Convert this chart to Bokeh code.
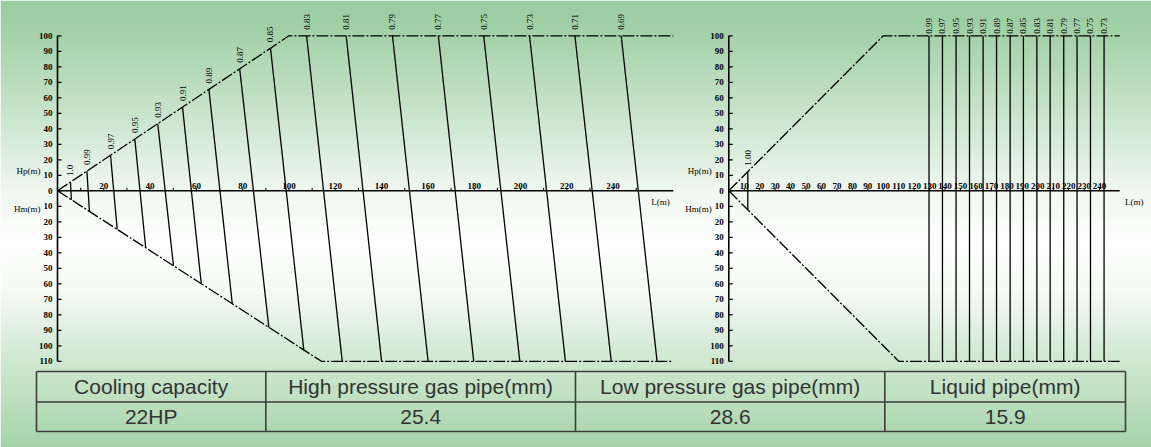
import numpy as np
from bokeh.plotting import figure
from bokeh.models import Range1d
from bokeh.core.properties import value
from bokeh.embed import file_html
from bokeh.resources import INLINE

# ---------------- data ----------------
# Left chart: correction-factor lines (L in m where each line meets upper / lower boundary)
left_factors = ["1.0", "0.99", "0.97", "0.95", "0.93", "0.91", "0.89", "0.87", "0.85",
                "0.83", "0.81", "0.79", "0.77", "0.75", "0.73", "0.71", "0.69"]
left_top_L = [5.6, 12.7, 22.9, 33.4, 43.3, 54.0, 65.4, 78.7, 92.0,
              107.6, 124.7, 144.7, 164.5, 184.1, 203.9, 223.5, 243.5]
left_bottom_L = [6.0, 13.8, 25.8, 38.1, 50.1, 62.1, 75.5, 91.3, 106.4,
                 123.0, 140.0, 160.1, 179.8, 199.7, 219.4, 239.2, 259.0]
left_upper_L = [0, 100, 266]
left_upper_H = [0, 100, 100]
left_lower_L = [0, 114, 266]
left_lower_H = [0, -110, -110]
left_x_labels = [20, 40, 60, 80, 100, 120, 140, 160, 180, 200, 220, 240]
left_x_minor = [10, 30, 50, 70, 90, 110, 130, 150, 170, 190, 210, 230, 250]

# Right chart: vertical correction-factor lines
right_factors = ["0.99", "0.97", "0.95", "0.93", "0.91", "0.89", "0.87",
                 "0.85", "0.83", "0.81", "0.79", "0.77", "0.75", "0.73"]
right_L = [129.6, 138.3, 147.1, 155.8, 164.6, 173.3, 182.1,
           190.7, 199.4, 208.0, 216.8, 225.4, 234.1, 242.9]
right_first_factor = ["1.00"]
right_first_L = [12.3]
right_upper_L = [0, 100, 253]
right_upper_H = [0, 100, 100]
right_lower_L = [0, 110, 253]
right_lower_H = [0, -110, -110]
right_x_labels = [10, 20, 30, 40, 50, 60, 70, 80, 90, 100, 110, 120,
                  130, 140, 150, 160, 170, 180, 190, 200, 210, 220, 230, 240]

h_ticks = [-110, -100, -90, -80, -70, -60, -50, -40, -30, -20, -10,
           0, 10, 20, 30, 40, 50, 60, 70, 80, 90, 100]
h_labels = [str(abs(v)) for v in h_ticks]

table_header = ["Cooling capacity", "High pressure gas pipe(mm)",
                "Low pressure gas pipe(mm)", "Liquid pipe(mm)"]
table_row = ["22HP", "25.4", "28.6", "15.9"]

# ---------------- layout / style ----------------
W, H = 1151, 447
SERIF = value("Liberation Serif")
SANS = value("Liberation Sans")
FS = "9px"
DASH = "12 2 2 2"

p = figure(width=W, height=H, output_backend="svg", toolbar_location=None,
           x_range=Range1d(-24.62, 472.57), y_range=Range1d(-165.6, 122.77),
           min_border=0, x_axis_location=None, y_axis_location=None,
           outline_line_color=None, background_fill_color="white",
           border_fill_color="white")
p.xgrid.visible = False
p.ygrid.visible = False
p.extra_x_ranges = {"R": Range1d(-471.4, 273.6), "bgx": Range1d(0, 1),
                    "tx": Range1d(0, W)}
p.extra_y_ranges = {"bgy": Range1d(0, 1), "ty": Range1d(H, 0)}

# background gradient (style only)
stops_y = [0, 30, 110, 190, 240, 290, 350, 400, 447]
stops_c = [(155, 204, 161), (163, 209, 168), (200, 228, 203), (240, 248, 240),
           (255, 255, 255), (246, 251, 246), (212, 235, 213), (190, 224, 192),
           (164, 211, 168)]
rows = np.arange(H)
ref_y = (H - 1 - rows) + 0.5
img = np.empty((H, 2), dtype=np.uint32)
view = img.view(dtype=np.uint8).reshape((H, 2, 4))
for k in range(3):
    view[:, :, k] = np.interp(ref_y, stops_y, [c[k] for c in stops_c])[:, None]
view[:, :, 3] = 255
p.image_rgba(image=[img], x=0, y=0, dw=1, dh=1, x_range_name="bgx", y_range_name="bgy")


def draw_chart(rn, upper_L, upper_H, lower_L, lower_H, x_lab, x_minor, xmax, lx):
    kw = {} if rn is None else {"x_range_name": rn}
    # axes
    p.segment(x0=[0], y0=[-110], x1=[0], y1=[100], line_color="black", line_width=1.6, **kw)
    p.segment(x0=[0], y0=[0], x1=[xmax], y1=[0], line_color="black", line_width=1.6, **kw)
    p.ray(x=[0] * len(h_ticks), y=h_ticks, length=4, length_units="screen", angle=0,
          line_color="black", line_width=1.2, **kw)
    p.text(x=[0] * len(h_ticks), y=h_ticks, text=h_labels, text_align="right",
           text_baseline="middle", x_offset=-5, text_font=SERIF, text_font_size=FS,
           text_font_style="bold", text_color="black", **kw)
    ticks = list(x_lab) + list(x_minor)
    p.ray(x=ticks, y=[0] * len(ticks), length=3, length_units="screen", angle=np.pi / 2,
          line_color="black", line_width=1.0, **kw)
    p.text(x=x_lab, y=[0] * len(x_lab), text=[str(v) for v in x_lab], text_align="center",
           text_baseline="bottom", y_offset=-2, text_font=SERIF, text_font_size=FS,
           text_font_style="bold", text_color="black", **kw)
    # boundaries
    p.line(upper_L, upper_H, line_color="black", line_width=1.3, line_dash=DASH, **kw)
    p.line(lower_L, lower_H, line_color="black", line_width=1.3, line_dash=DASH, **kw)
    # axis titles
    p.text(x=[0], y=[0], text=["Hp(m)"], text_align="right", text_baseline="middle",
           x_offset=-17, y_offset=-20, text_font=SERIF, text_font_size=FS,
           text_color="black", **kw)
    p.text(x=[0], y=[0], text=["Hm(m)"], text_align="right", text_baseline="middle",
           x_offset=-17, y_offset=18, text_font=SERIF, text_font_size=FS,
           text_color="black", **kw)
    p.text(x=[lx], y=[0], text=["L(m)"], text_align="center", text_baseline="middle",
           y_offset=11, text_font=SERIF, text_font_size=FS, text_color="black", **kw)


# ---- left chart ----
draw_chart(None, left_upper_L, left_upper_H, left_lower_L, left_lower_H,
           left_x_labels, left_x_minor, 266, 260.5)
lt_H = np.interp(left_top_L, left_upper_L, left_upper_H)
lb_H = np.interp(left_bottom_L, left_lower_L, left_lower_H)
p.segment(x0=left_top_L, y0=lt_H, x1=left_bottom_L, y1=lb_H, line_color="black",
          line_width=1.3)
p.text(x=left_top_L, y=lt_H, text=left_factors, angle=np.pi / 2, text_align="left",
       text_baseline="middle", y_offset=-6, text_font=SERIF, text_font_size=FS,
       text_color="black")

# ---- right chart ----
draw_chart("R", right_upper_L, right_upper_H, right_lower_L, right_lower_H,
           right_x_labels, [], 253, 262.5)
rt_H = np.interp(right_L, right_upper_L, right_upper_H)
rb_H = np.interp(right_L, right_lower_L, right_lower_H)
p.segment(x0=right_L, y0=rt_H, x1=right_L, y1=rb_H, line_color="black", line_width=1.3,
          x_range_name="R")
p.text(x=right_L, y=rt_H, text=right_factors, angle=np.pi / 2, text_align="left",
       text_baseline="middle", y_offset=-2, text_font=SERIF, text_font_size=FS,
       text_color="black", x_range_name="R")
r1_top = np.interp(right_first_L, right_upper_L, right_upper_H)
r1_bot = np.interp(right_first_L, right_lower_L, right_lower_H)
p.segment(x0=right_first_L, y0=r1_top, x1=right_first_L, y1=r1_bot, line_color="black",
          line_width=1.3, x_range_name="R")
p.text(x=right_first_L, y=r1_top, text=right_first_factor, angle=np.pi / 2,
       text_align="left", text_baseline="middle", y_offset=-6, text_font=SERIF,
       text_font_size=FS, text_color="black", x_range_name="R")

# ---- table ----
col_edges = [36, 265.3, 575, 884.3, 1125]
row_edges = [371, 401.5, 431]
tk = {"x_range_name": "tx", "y_range_name": "ty"}
p.segment(x0=[col_edges[0]] * 3, y0=row_edges, x1=[col_edges[-1]] * 3, y1=row_edges,
          line_color="#3c3c3c", line_width=1.6, **tk)
p.segment(x0=col_edges, y0=[row_edges[0]] * 5, x1=col_edges, y1=[row_edges[-1]] * 5,
          line_color="#3c3c3c", line_width=1.6, **tk)
cx = [(a + b) / 2 for a, b in zip(col_edges[:-1], col_edges[1:])]
ry = [(a + b) / 2 for a, b in zip(row_edges[:-1], row_edges[1:])]
p.text(x=cx, y=[ry[0]] * 4, text=table_header, text_align="center",
       text_baseline="middle", text_font=SANS, text_font_size="21px",
       text_color="#333333", **tk)
p.text(x=cx, y=[ry[1]] * 4, text=table_row, text_align="center",
       text_baseline="middle", text_font=SANS, text_font_size="21px",
       text_color="#333333", **tk)

open("out.html", "w").write(file_html(p, INLINE))
